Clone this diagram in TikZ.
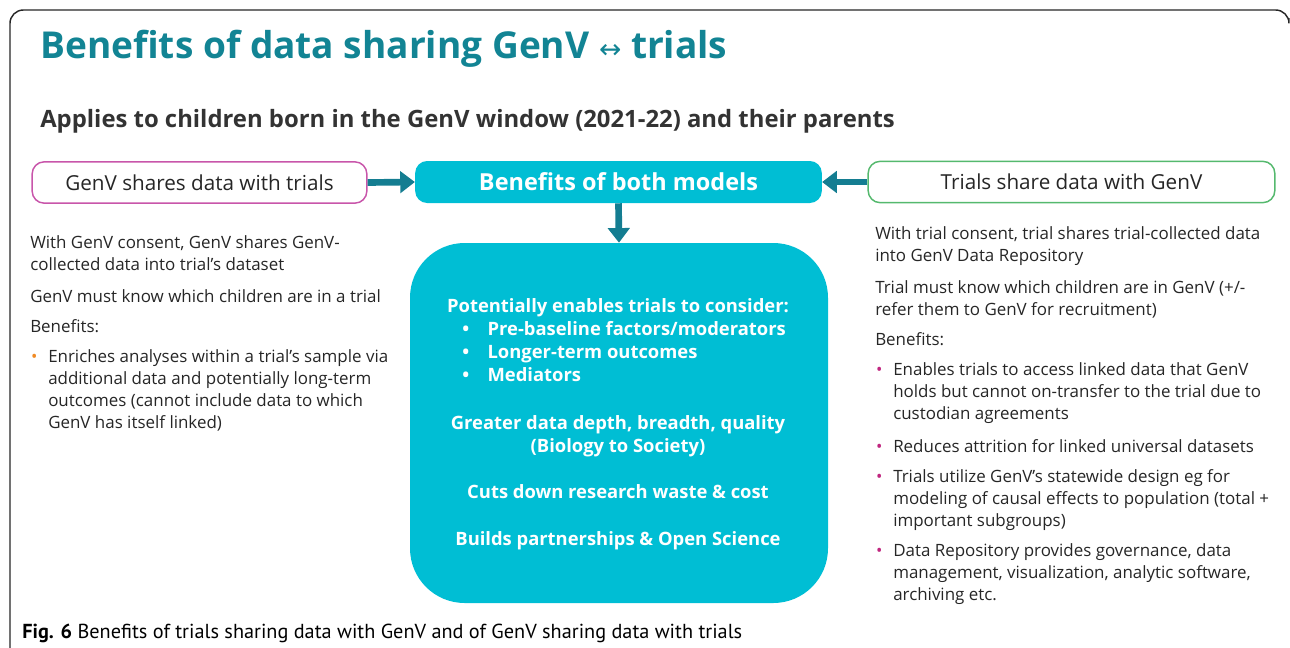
\documentclass[tikz,border=0pt]{standalone}
\usepackage{fontspec}
\setmainfont{Open Sans}
\newfontfamily\capfont{PT Sans}
\newfontfamily\symfont{DejaVu Sans}
\usetikzlibrary{arrows.meta}

\definecolor{genvteal}{RGB}{18,132,148}
\definecolor{genvcyan}{RGB}{0,190,212}
\definecolor{arrowteal}{RGB}{20,125,145}
\definecolor{genvpink}{RGB}{200,85,170}
\definecolor{genvgreen}{RGB}{85,185,110}
\definecolor{bulorange}{RGB}{240,138,36}
\definecolor{bulpink}{RGB}{192,38,127}
\definecolor{bodygray}{RGB}{38,38,38}

\tikzset{
  flowarrow/.style={line width=5pt,arrowteal,-{Triangle[length=11pt,width=16pt]}},
  outlinebox/.style={draw,line width=1.1pt,rounded corners=9pt,fill=white,
    minimum height=31pt,font=\fontsize{15.5}{18}\selectfont,text=bodygray},
  bodytext/.style={anchor=base west,inner sep=0pt,align=left,text=bodygray,
    font=\fontsize{12.7}{16.3}\selectfont},
  whitetext/.style={inner sep=0pt,text=white,font=\bfseries\fontsize{13.8}{17.25}\selectfont}
}
\newcommand{\bulletmark}[1]{\llap{\textcolor{#1}{\textbullet}\hspace{8pt}}}

\begin{document}
\begin{tikzpicture}[x=0.75pt,y=-0.75pt]
\useasboundingbox (0,0) rectangle (1290,647);

% we draw the frame
\draw[line width=1.1pt,black!85,rounded corners=10pt] (10,700) |- (1289,10) -- (1289,18);

% we add the headings
\node (title) [anchor=base west,inner sep=0pt,text=genvteal,
  font=\bfseries\fontsize{27.8}{32}\selectfont] at (40,58)
  {Benefits of data sharing GenV {\symfont\mdseries\fontsize{20}{22}\selectfont ↔} trials};
\node (applies) [anchor=base west,inner sep=0pt,text=black!80,
  font=\bfseries\fontsize{17.9}{21}\selectfont] at (40,127)
  {Applies to children born in the GenV window (2021-22) and their parents};

% we draw the three top boxes
\node (genvside) [outlinebox,draw=genvpink,minimum width=251pt] at (199.5,182.5)
  {GenV shares data with trials};
\node (both) [rounded corners=9pt,fill=genvcyan,minimum width=305pt,minimum height=31.5pt,
  text=white,font=\bfseries\fontsize{17.6}{20}\selectfont] at (618.5,182)
  {Benefits of both models};
\node (trialside) [outlinebox,draw=genvgreen,minimum width=305pt] at (1071.5,182)
  {Trials share data with GenV};

% we draw the big box of shared benefits
\node (shared) [rounded corners=41pt,fill=genvcyan,minimum width=313.5pt,
  minimum height=270pt] at (619,423) {};

% we add the arrows
\draw[flowarrow] (genvside.east) -- (both.west);
\draw[flowarrow] (trialside.west) -- (both.east);
\draw[flowarrow] (both.south) -- (shared.north);

% we add the labels inside the big box
\node (consider) [whitetext,anchor=base] at (618,312) {Potentially enables trials to consider:};
\node (considerlist) [whitetext,anchor=base west,align=left] at (462,381)
  {\makebox[19pt][l]{\textbullet}Pre-baseline factors/moderators\\
   \makebox[19pt][l]{\textbullet}Longer-term outcomes\\
   \makebox[19pt][l]{\textbullet}Mediators};
\node (depth) [whitetext,anchor=base,align=center] at (618,452)
  {Greater data depth, breadth, quality\\(Biology to Society)};
\node (waste) [whitetext,anchor=base] at (618,498) {Cuts down research waste \& cost};
\node (partners) [whitetext,anchor=base] at (618,545) {Builds partnerships \& Open Science};

% we add the text on the left (base is the last line)
\node (lconsent) [bodytext] at (30,270)
  {With GenV consent, GenV shares GenV-\\collected data into trial’s dataset};
\node (lknow) [bodytext] at (30,302) {GenV must know which children are in a trial};
\node (lbenefits) [bodytext] at (30,332) {Benefits:};
\node (lenrich) [bodytext] at (48,428)
  {\bulletmark{bulorange}Enriches analyses within a trial’s sample via\\
   additional data and potentially long-term\\
   outcomes (cannot include data to which\\
   GenV has itself linked)};

% we add the text on the right
\node (rconsent) [bodytext] at (875,261)
  {With trial consent, trial shares trial-collected data\\into GenV Data Repository};
\node (rknow) [bodytext] at (875,315)
  {Trial must know which children are in GenV (+/-\\refer them to GenV for recruitment)};
\node (rbenefits) [bodytext] at (875,345) {Benefits:};
\node (raccess) [bodytext] at (893,419)
  {\bulletmark{bulpink}Enables trials to access linked data that GenV\\
   holds but cannot on-transfer to the trial due to\\
   custodian agreements};
\node (rattrition) [bodytext] at (893,452)
  {\bulletmark{bulpink}Reduces attrition for linked universal datasets};
\node (rdesign) [bodytext] at (893,526)
  {\bulletmark{bulpink}Trials utilize GenV’s statewide design eg for\\
   modeling of causal effects to population (total +\\
   important subgroups)};
\node (rrepo) [bodytext] at (893,600)
  {\bulletmark{bulpink}Data Repository provides governance, data\\
   management, visualization, analytic software,\\
   archiving etc.};

% we add the caption
\node (caption) [anchor=base west,inner sep=0pt,text=black,
  font=\capfont\fontsize{15.2}{18}\selectfont] at (22,638)
  {\textbf{Fig. 6} Benefits of trials sharing data with GenV and of GenV sharing data with trials};

\end{tikzpicture}
\end{document}
